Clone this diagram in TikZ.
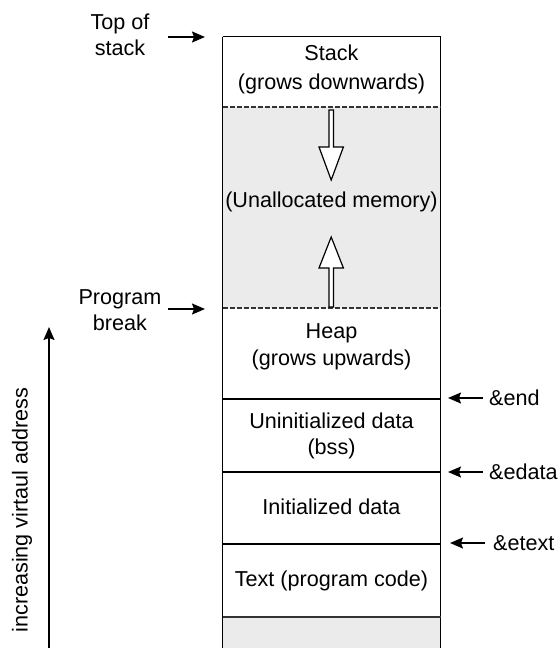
\documentclass[tikz,border=0pt]{standalone}
\usepackage{fontspec}
\setmainfont{Liberation Sans}
\usetikzlibrary{arrows.meta}
\definecolor{fillgray}{HTML}{EBEBEB}
\definecolor{dashgray}{HTML}{333333}
\begin{document}
\begin{tikzpicture}[x=1pt,y=-1pt,
  lbl/.style={font=\fontsize{21.6}{26.5}\selectfont, align=center, inner sep=0pt},
  seg/.style={line width=1.3pt, draw=black},
  dashsep/.style={line width=1.2pt, draw=dashgray, dash pattern=on 5pt off 2pt},
  pointer/.style={line width=1.5pt, -{Stealth[length=13pt,width=11pt,inset=2pt]}},
  blockarrow/.style={line width=1.2pt, draw=black, fill=white, line join=miter}
]
\useasboundingbox (0,0) rectangle (558,648);
% gray regions
\fill[fillgray] (222.7,107) rectangle (440.7,308);
\fill[fillgray] (222.7,617) rectangle (440.7,648);
% outer box verticals
\draw[seg] (222.7,36.7) -- (222.7,648);
\draw[seg] (440.7,36.7) -- (440.7,648);
% horizontals
\draw[seg] (222.7,36.7) -- (440.7,36.7);
\draw[dashsep] (222.7,107) -- (440.7,107);
\draw[dashsep] (222.7,308) -- (440.7,308);
\draw[seg] (222.7,399) -- (440.7,399);
\draw[seg] (222.7,472) -- (440.7,472);
\draw[seg] (222.7,544) -- (440.7,544);
\draw[seg, draw=dashgray] (222.7,617) -- (440.7,617);
% hollow block arrows
\draw[blockarrow] (329,110) -- (329,147) -- (319,147) -- (331.2,180) -- (343.4,147) -- (333.4,147) -- (333.4,110) -- cycle;
\draw[blockarrow] (329,307) -- (329,268) -- (319,268) -- (331.2,237) -- (343.4,268) -- (333.4,268) -- (333.4,307) -- cycle;
% segment texts
\node[lbl] (stack) at (331.5,69) {Stack\\[2.5pt](grows downwards)};
\node[lbl] (unalloc) at (331.5,202) {(Unallocated memory)};
\node[lbl] (heap) at (331.5,347) {Heap\\(grows upwards)};
\node[lbl] (bss) at (331.5,436) {Uninitialized data\\(bss)};
\node[lbl] (idata) at (331.5,507) {Initialized data};
\node[lbl] (text) at (331.5,581) {Text (program code)};
% left labels
\node[lbl] (tos) at (120,35) {Top of\\stack};
\coordinate (tosS) at (168,37);
\coordinate (tosE) at (205,37);
\draw[pointer] (tosS) -- (tosE);
\node[lbl] (pbrk) at (120,310) {Program\\break};
\coordinate (pbS) at (168,309);
\coordinate (pbE) at (205,309);
\draw[pointer] (pbS) -- (pbE);
% right labels
\node[lbl, anchor=west] (endl) at (489,398) {\&end};
\coordinate (endS) at (483,398);
\coordinate (endE) at (448,398);
\draw[pointer] (endS) -- (endE);
\node[lbl, anchor=west] (edatal) at (489,472) {\&edata};
\coordinate (edS) at (483,472);
\coordinate (edE) at (448,472);
\draw[pointer] (edS) -- (edE);
\node[lbl, anchor=west] (etextl) at (493,543) {\&etext};
\coordinate (etS) at (485,543);
\coordinate (etE) at (450,543);
\draw[pointer] (etS) -- (etE);
% address axis
\coordinate (axB) at (49,648);
\coordinate (axT) at (49,327);
\draw[pointer] (axB) -- (axT);
\node[lbl, rotate=90] (axl) at (22,510) {increasing virtaul address};
\end{tikzpicture}
\end{document}
